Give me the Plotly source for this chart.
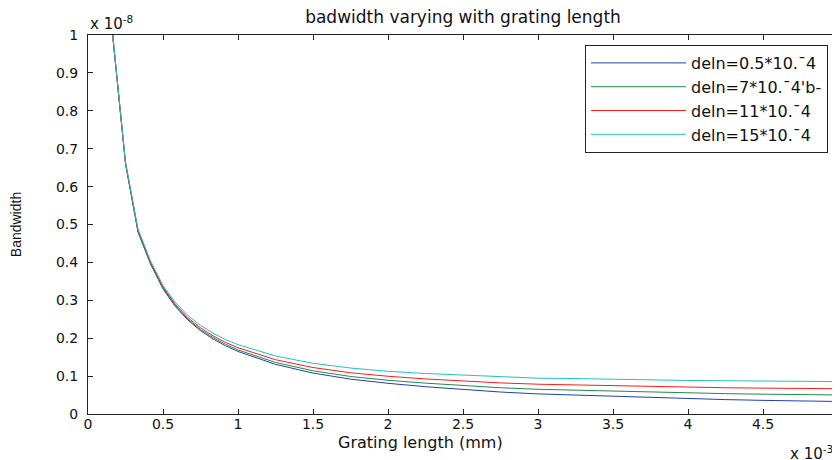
import plotly.graph_objects as go

# Grating length (x 10^-3 m, i.e. mm)
length_mm = [0.0833, 0.1667, 0.25, 0.3333, 0.4167, 0.5, 0.5833, 0.6667, 0.75, 0.8333, 0.9167, 1.0,
             1.25, 1.5, 1.75, 2.0, 2.25, 2.5, 2.75, 3.0, 3.25, 3.5, 3.75, 4.0, 4.25, 4.5, 4.75, 5.0]

# Bandwidth (x 10^-8)
bw_05 = [1.98, 0.99, 0.66, 0.48, 0.396, 0.33, 0.283, 0.2475, 0.22, 0.198, 0.18, 0.165,
         0.131, 0.108, 0.092, 0.081, 0.072, 0.065, 0.058, 0.053, 0.050, 0.046, 0.043, 0.040, 0.038, 0.036, 0.034, 0.033]
bw_7 = [1.98, 0.99, 0.661, 0.482, 0.398, 0.332, 0.286, 0.25, 0.223, 0.202, 0.184, 0.169,
        0.136, 0.114, 0.099, 0.089, 0.0814, 0.0753, 0.0693, 0.0652, 0.0628, 0.0597, 0.0574, 0.0552, 0.0537, 0.0523, 0.051, 0.0503]
bw_11 = [1.98, 0.992, 0.663, 0.485, 0.40, 0.335, 0.289, 0.254, 0.2275, 0.2063, 0.189, 0.1749,
         0.1433, 0.1226, 0.1088, 0.0996, 0.0925, 0.0871, 0.082, 0.0786, 0.0766, 0.074, 0.0722, 0.0705, 0.0693, 0.0683, 0.0672, 0.0667]
bw_15 = [1.98, 0.993, 0.665, 0.488, 0.404, 0.339, 0.294, 0.2598, 0.2338, 0.2132, 0.1966, 0.183,
         0.153, 0.1338, 0.1213, 0.1127, 0.1069, 0.1023, 0.098, 0.0945, 0.0935, 0.0914, 0.0899, 0.0885, 0.0877, 0.0868, 0.086, 0.0856]

series_names = ["deln=0.5*10.¯4", "deln=7*10.¯4'b-", "deln=11*10.¯4", "deln=15*10.¯4"]
series_values = [bw_05, bw_7, bw_11, bw_15]
series_colors = ["#2040b0", "#1f8a4c", "#ff1a1a", "#22c2c2"]

x_ticks = [0, 0.5, 1, 1.5, 2, 2.5, 3, 3.5, 4, 4.5, 5]
x_ticklabels = ["0", "0.5", "1", "1.5", "2", "2.5", "3", "3.5", "4", "4.5", "5"]
y_ticks = [0, 0.1, 0.2, 0.3, 0.4, 0.5, 0.6, 0.7, 0.8, 0.9, 1]
y_ticklabels = ["0", "0.1", "0.2", "0.3", "0.4", "0.5", "0.6", "0.7", "0.8", "0.9", "1"]

FONT = "DejaVu Sans, Verdana, sans-serif"
FONT2 = "Liberation Sans, Arial, sans-serif"

fig = go.Figure()
for i, (name, vals, col) in enumerate(zip(series_names, series_values, series_colors)):
    fig.add_trace(go.Scatter(x=length_mm, y=vals, mode="lines", name=name, legendgroup=f"g{i}",
                             line=dict(color=col, width=1)))

axis_common = dict(showline=True, linecolor="#222222", linewidth=1, mirror="ticks",
                   ticks="inside", ticklen=5, tickcolor="#222222", showgrid=False,
                   zeroline=False, automargin=False,
                   tickfont=dict(family=FONT, size=14, color="#111111"))

# page body has an 8px margin, so plot area in the figure is offset accordingly
fig.update_layout(
    width=840, height=460,
    margin=dict(l=80, r=10, t=27, b=54, autoexpand=False),
    paper_bgcolor="white", plot_bgcolor="white",
    font=dict(family=FONT, size=15, color="#111111"),
    title=dict(text="badwidth varying with grating length", x=(80 + 830) / 2 / 840, xanchor="center",
               xref="container", yref="container",
               y=1 - 9 / 460, yanchor="middle", font=dict(family=FONT, size=17)),
    xaxis=dict(range=[0, 5], tickvals=x_ticks, ticktext=x_ticklabels, ticklabelstandoff=-3,
               **axis_common),
    yaxis=dict(range=[0, 1], tickvals=y_ticks, ticktext=y_ticklabels, ticklabelstandoff=6,
               title=dict(text="Bandwidth", standoff=40, font=dict(family=FONT2, size=14)), **axis_common),
    legend=dict(x=0.9867, y=0.9736, xanchor="right", yanchor="top",
                bordercolor="#222222", borderwidth=1, bgcolor="white",
                font=dict(family=FONT, size=16), itemwidth=95, tracegroupgap=0),
    showlegend=True,
)

fig.add_annotation(text="Grating length (mm)", xref="paper", yref="paper",
                   x=(412 - 80) / 750, y=-28 / 379, xanchor="center", yanchor="middle",
                   showarrow=False, font=dict(family=FONT, size=16))
fig.add_annotation(text="x 10<sup>-8</sup>", xref="paper", yref="paper", x=0.0, y=1.0,
                   xanchor="left", yanchor="bottom", showarrow=False,
                   font=dict(family=FONT, size=15))
fig.add_annotation(text="x 10<sup>-3</sup>", xref="paper", yref="paper", x=0.996, y=-0.07,
                   xanchor="right", yanchor="top", showarrow=False,
                   font=dict(family=FONT, size=15))

fig.write_html("out.html")
